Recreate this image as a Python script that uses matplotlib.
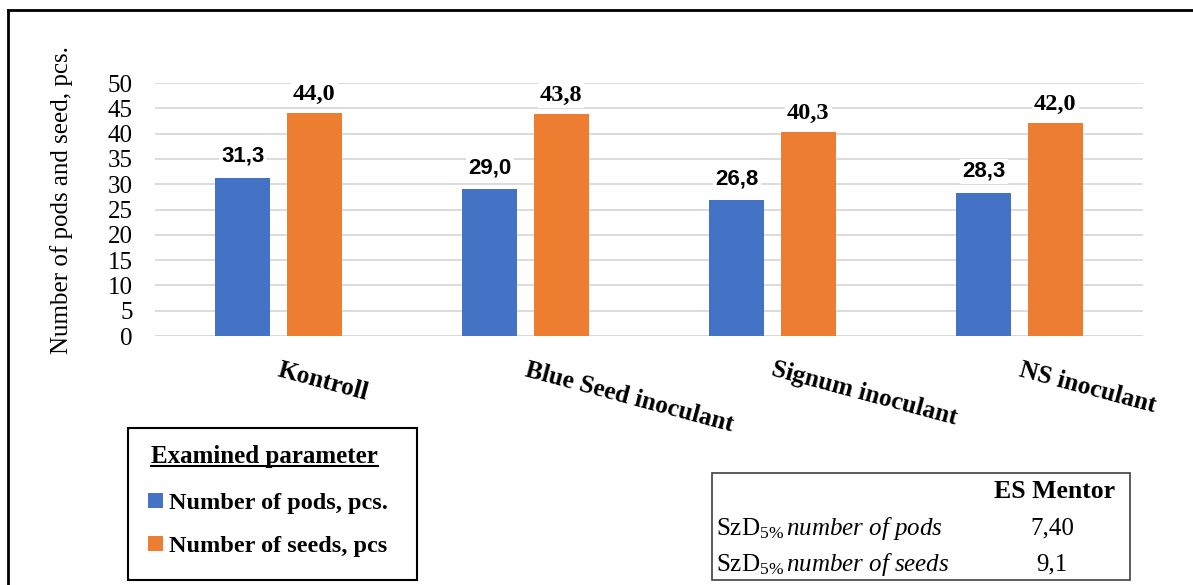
import matplotlib
matplotlib.use("Agg")
import matplotlib.pyplot as plt
import matplotlib.patches as mpatches
from matplotlib.lines import Line2D
import numpy as np

plt.rcParams["mathtext.fontset"] = "custom"
plt.rcParams["mathtext.rm"] = "Liberation Serif"
plt.rcParams["mathtext.it"] = "Liberation Serif:italic"
plt.rcParams["mathtext.bf"] = "Liberation Serif:bold"

# treatments and measured values
treatments = ["Kontroll", "Blue Seed inoculant", "Signum inoculant", "NS inoculant"]
pods = [31.3, 29.0, 26.8, 28.3]
seeds = [44.0, 43.8, 40.3, 42.0]
series_names = ["Number of pods, pcs.", "Number of seeds, pcs"]

# LSD values for the side table
lsd_rows = ["number of pods", "number of seeds"]
lsd_vals = ["7,40", "9,1"]
lsd_col = "ES Mentor"

BLUE = "#4472C4"
ORANGE = "#ED7D31"
SERIF = "Liberation Serif"
SANS = "Liberation Sans"


def fmt(v):
    return f"{v:.1f}".replace(".", ",")


fig = plt.figure(figsize=(11.93, 5.85), dpi=100)
ax = fig.add_axes([0.1299, 0.4256, 0.8282, 0.4325])

x = np.arange(len(treatments))
w = 0.223
off = 0.144
b1 = ax.bar(x - off, pods, w, color=BLUE, label=series_names[0], zorder=3)
b2 = ax.bar(x + off, seeds, w, color=ORANGE, label=series_names[1], zorder=3)

# value labels: pods in sans, seeds in serif
for bars, vals, fam, size, dy in ((b1, pods, SANS, 16, 8), (b2, seeds, SERIF, 17.5, 6)):
    for r, v in zip(bars, vals):
        ax.annotate(fmt(v), (r.get_x() + r.get_width() / 2, v),
                    xytext=(0, dy), textcoords="offset points",
                    ha="center", va="bottom", fontsize=size, fontweight="bold",
                    family=fam, zorder=4,
                    bbox=dict(facecolor="white", edgecolor="none", pad=1.5))

ax.set_xlim(-0.5, len(treatments) - 0.5)
ax.set_ylim(0, 50)
ax.set_yticks(np.arange(0, 51, 5))
ax.yaxis.grid(True, color="#D9D9D9", linewidth=1.3, zorder=0)
ax.set_axisbelow(True)
for s in ax.spines.values():
    s.set_visible(False)
ax.tick_params(axis="y", length=0, pad=16, labelsize=18)
for t in ax.get_yticklabels():
    t.set_family(SERIF)
ax.set_xticks(x)
ax.set_xticklabels([])
ax.tick_params(axis="x", length=0)
ax.axhline(0, color="#D9D9D9", linewidth=1.3, zorder=1)

for xi, name in zip(x, treatments):
    ax.annotate(name, (xi, 0), xytext=(2, -16), textcoords="offset points",
                ha="left", va="top", rotation=-15, rotation_mode="anchor",
                fontsize=18.3, fontweight="bold", family=SERIF)

ax.set_ylabel("Number of pods and seed, pcs.", family=SERIF, fontsize=18)
ax.yaxis.set_label_coords(-0.083, 0.537)

# outer frame (left and top edges)
fig.add_artist(Line2D([8 / 1193, 8 / 1193], [0, 1 - 10 / 585],
                      transform=fig.transFigure, color="black", lw=2))
fig.add_artist(Line2D([8 / 1193, 1], [1 - 10 / 585, 1 - 10 / 585],
                      transform=fig.transFigure, color="black", lw=2))

# legend box
fig.add_artist(mpatches.Rectangle((128 / 1193, 1 - 580 / 585), 289 / 1193, 152 / 585,
                                  transform=fig.transFigure, fill=False,
                                  edgecolor="black", lw=1.5))
title = fig.text(151 / 1193, 1 - 456 / 585, "Examined parameter", family=SERIF,
                 fontweight="bold", fontsize=18, ha="left", va="center")
leg = fig.legend(handles=[b1, b2], loc="center left",
                 bbox_to_anchor=(131 / 1193, 1 - 525 / 585), frameon=False,
                 prop=dict(family=SERIF, weight="bold", size=17.5),
                 handlelength=0.6, handleheight=0.6, handletextpad=0.25,
                 labelspacing=0.9, borderpad=0.2)
fig.canvas.draw()
bb = title.get_window_extent().transformed(fig.transFigure.inverted())
fig.add_artist(Line2D([bb.x0, bb.x1], [bb.y0 + 0.003, bb.y0 + 0.003],
                      transform=fig.transFigure, color="black", lw=1.5))

# LSD table
fig.add_artist(mpatches.Rectangle((712 / 1193, 1 - 580 / 585), 418 / 1193, 107 / 585,
                                  transform=fig.transFigure, fill=False,
                                  edgecolor="#404040", lw=1.2))
fig.text(1055 / 1193, 1 - 491 / 585, lsd_col, family=SERIF, fontweight="bold",
         fontsize=18.5, ha="center", va="center")
for i, (row, val) in enumerate(zip(lsd_rows, lsd_vals)):
    yy = 1 - (528 + 36 * i) / 585
    label = r"SzD$_{5\%}\,$" + r"$\it{" + row.replace(" ", r"\ ") + "}$"
    fig.text(716 / 1193, yy, label, family=SERIF, fontsize=18,
             ha="left", va="center")
    fig.text(1052 / 1193, yy, val, family=SERIF, fontsize=18,
             ha="center", va="center")

fig.savefig("out.png", dpi=100)
